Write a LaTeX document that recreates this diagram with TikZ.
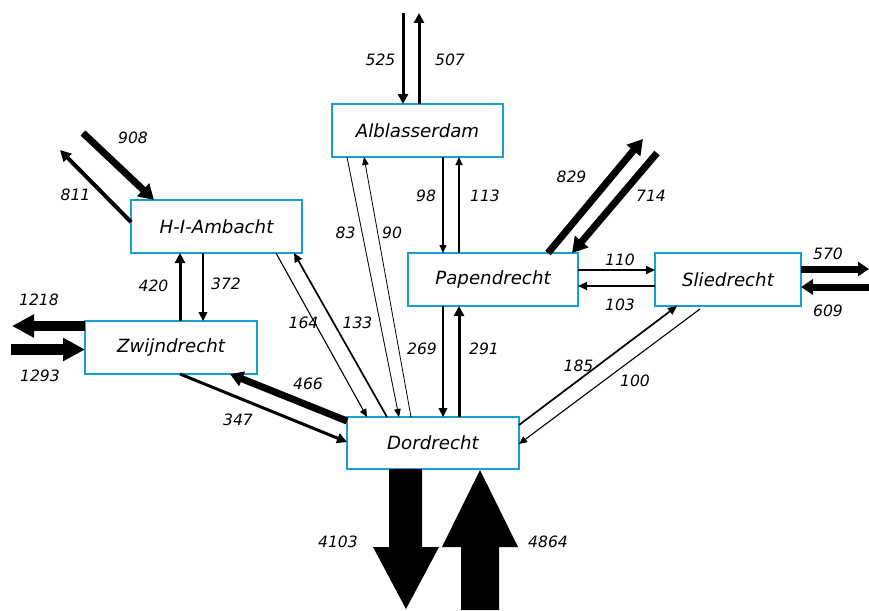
\documentclass[tikz,border=0pt]{standalone}
\usepackage{fontspec}
\setmainfont{DejaVu Sans}
\usetikzlibrary{arrows.meta,calc}
\definecolor{boxblue}{RGB}{22,160,210}
\tikzset{
  town/.style={draw=boxblue,line width=2.4pt,fill=white,inner sep=0pt,outer sep=0pt,
    font=\fontsize{18.2}{21}\selectfont\itshape},
  lab/.style={font=\fontsize{15.6}{17}\selectfont\itshape,inner sep=0pt},
  fthin/.style={line width=0.8pt,-{Triangle[length=8pt,width=6.5pt]}},
  fone/.style={line width=1.1pt,-{Triangle[length=8pt,width=7pt]}},
  fmed/.style={line width=1.7pt,-{Triangle[length=9pt,width=8pt]}},
  ftwo/.style={line width=2.2pt,-{Triangle[length=9pt,width=8.5pt]}},
  fthree/.style={line width=3pt,-{Triangle[length=10pt,width=10pt]}},
  ffour/.style={line width=4pt,-{Triangle[length=11pt,width=11pt]}},
  fseven/.style={line width=7pt,-{Triangle[length=15pt,width=17pt]}},
  fbig/.style={line width=10.5pt,-{Triangle[length=22pt,width=22pt]}},
}
\begin{document}
\begin{tikzpicture}[x=1pt,y=-1pt]
\useasboundingbox (0,0) rectangle (869,610);
% towns
\node[town,minimum width=171pt,minimum height=53pt] (Alb) at (417.5,130.5) {Alblasserdam};
\node[town,minimum width=171pt,minimum height=53pt] (HIA) at (216.5,226.5) {H-I-Ambacht};
\node[town,minimum width=170pt,minimum height=53pt] (Pap) at (493,279.5) {Papendrecht};
\node[town,minimum width=146pt,minimum height=53pt] (Sli) at (728,279.5) {Sliedrecht};
\node[town,minimum width=172pt,minimum height=53pt] (Zw) at (171,347.5) {Zwijndrecht};
\node[town,minimum width=172pt,minimum height=52pt] (Dor) at (433,443) {Dordrecht};
% free ends
\coordinate (c525) at (403,13);
\coordinate (c507) at (419,13);
\coordinate (c908) at (83,133);
\coordinate (c811) at (60,150);
\coordinate (c1218) at (12,326);
\coordinate (c1293) at (11,349.5);
\coordinate (c829) at (643,139);
\coordinate (c714) at (657,153);
\coordinate (c570) at (869,269);
\coordinate (c609) at (869,287);
% Alblasserdam
\draw[fthree] (c525) -- ([xshift=-14.5pt]Alb.north);
\draw[fthree] ([xshift=1.5pt]Alb.north) -- (c507);
\draw[fone] ([xshift=25.5pt]Alb.south) -- ([xshift=-50pt]Pap.north);
\draw[fone] ([xshift=-34pt]Pap.north) -- ([xshift=41.5pt]Alb.south);
\draw[fthin] ([xshift=-70.5pt]Alb.south) -- ([xshift=-34pt]Dor.north);
\draw[fthin] ([xshift=-22pt]Dor.north) -- ([xshift=-53.5pt]Alb.south);
% H-I-Ambacht
\draw[fone] ([xshift=59.5pt]HIA.south) -- ([xshift=-66pt]Dor.north);
\draw[fmed] ([xshift=-46pt]Dor.north) -- ([xshift=77.5pt]HIA.south);
\draw[fthree] ([xshift=9pt]Zw.north) -- ([xshift=-36.5pt]HIA.south);
\draw[ftwo] ([xshift=-13.5pt]HIA.south) -- ([xshift=32pt]Zw.north);
\draw[fseven] (c908) -- ([xshift=23pt]HIA.north west);
\draw[ffour] ([yshift=4.5pt]HIA.west) -- (c811);
% Zwijndrecht
\draw[fbig] ([yshift=21.5pt]Zw.west) -- (c1218);
\draw[fbig,line width=11.5pt] (c1293) -- ([yshift=-2pt]Zw.west);
\draw[fthree] ([xshift=9pt]Zw.south) -- ([yshift=1pt]Dor.west);
\draw[fseven,-{Triangle[length=13pt,width=15pt]}] ([yshift=-4pt]Dor.north west) -- ([xshift=-27pt]Zw.south east);
% Papendrecht
\draw[ftwo] ([xshift=-50pt]Pap.south) -- ([xshift=10pt]Dor.north);
\draw[fthree] ([xshift=26pt]Dor.north) -- ([xshift=-34pt]Pap.south);
\draw[fseven] ([xshift=55pt]Pap.north) -- (c829);
\draw[fseven] (c714) -- ([xshift=79pt]Pap.north);
\draw[fmed] ([yshift=9.5pt]Pap.east) -- ([yshift=9.5pt]Sli.west);
\draw[fmed] ([yshift=-6.5pt]Sli.west) -- ([yshift=-6.5pt]Pap.east);
% Sliedrecht
\draw[fseven,-{Triangle[length=11pt,width=14pt]}] ([yshift=10.5pt]Sli.east) -- (c570);
\draw[fseven,-{Triangle[length=12pt,width=15pt]}] (c609) -- ([yshift=-7.5pt]Sli.east);
\draw[fmed] ([yshift=18pt]Dor.east) -- ([xshift=-51pt]Sli.south);
\draw[fone] ([xshift=-28pt,yshift=-3pt]Sli.south) -- ([yshift=-1pt]Dor.east);
% Dordrecht block arrows
\fill ([xshift=-44pt]Dor.south) -- ++(33,0) -- ++(0,78) -- ++(17,0) -- ++(-33,62)
  -- ++(-33,-62) -- ++(16,0) -- cycle;
\fill ([xshift=47pt,yshift=-1pt]Dor.south) -- ++(38,77) -- ++(-19,0) -- ++(0,63)
  -- ++(-38,0) -- ++(0,-63) -- ++(-19,0) -- cycle;
% labels
\node[lab] (l525) at (380.5,60) {525};
\node[lab] (l507) at (450,60) {507};
\node[lab] (l98) at (426,196) {98};
\node[lab] (l113) at (485,196) {113};
\node[lab] (l83) at (345.5,232.5) {83};
\node[lab] (l90) at (392,232.5) {90};
\node[lab] (l164) at (303.5,323) {164};
\node[lab] (l133) at (357.5,323) {133};
\node[lab] (l420) at (153.5,286) {420};
\node[lab] (l372) at (226,284) {372};
\node[lab] (l908) at (133,138) {908};
\node[lab] (l811) at (75.5,195) {811};
\node[lab] (l1218) at (39,300) {1218};
\node[lab] (l1293) at (40,376) {1293};
\node[lab] (l347) at (238,420) {347};
\node[lab] (l466) at (308,384) {466};
\node[lab] (l269) at (422,349) {269};
\node[lab] (l291) at (484,349) {291};
\node[lab] (l829) at (571.5,176.5) {829};
\node[lab] (l714) at (651,195.5) {714};
\node[lab] (l110) at (620,259.5) {110};
\node[lab] (l103) at (620,305) {103};
\node[lab] (l570) at (828,253.5) {570};
\node[lab] (l609) at (828,311) {609};
\node[lab] (l185) at (578.5,365.5) {185};
\node[lab] (l100) at (635,381) {100};
\node[lab] (l4103) at (338,542) {4103};
\node[lab] (l4864) at (548,542) {4864};
\end{tikzpicture}
\end{document}
